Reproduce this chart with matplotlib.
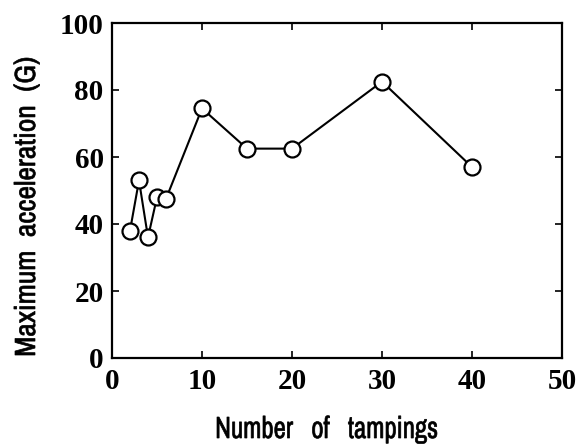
import matplotlib.pyplot as plt
from matplotlib import font_manager
from matplotlib.font_manager import FontProperties
from matplotlib.textpath import TextPath
from matplotlib.patches import PathPatch
from matplotlib.transforms import Affine2D
from matplotlib.ticker import MultipleLocator

# number of tampings vs. peak acceleration
tampings = [2, 3, 4, 5, 6, 10, 15, 20, 30, 40]
max_accel = [38, 53, 36, 48, 47.5, 74.5, 62.5, 62.5, 82.5, 57]

x_title = 'Number   of   tampings'
y_title = 'Maximum  acceleration  (G)'

# narrow face for the axis titles, if one is installed
narrow = [f.name for f in font_manager.fontManager.ttflist
          if f.stretch in ('condensed', 'semi-condensed', 'extra-condensed')
          or 'Narrow' in f.name or 'Condensed' in f.name]
lab_prop = FontProperties(family=sorted(set(narrow)) + ['DejaVu Sans'],
                          stretch='condensed')
num_font = ['Liberation Serif', 'DejaVu Serif']


def squeezed_title(fig, s, start, end, base, cap, vertical=False):
    # text outline stretched to a given length and cap height (pixels)
    tp = TextPath((0, 0), s, size=1, prop=lab_prop)
    ext = tp.get_extents()
    cap1 = TextPath((0, 0), 'N', size=1, prop=lab_prop).get_extents().y1
    tr = Affine2D().translate(-ext.x0, 0).scale((end - start) / ext.width,
                                                cap / cap1)
    if vertical:
        tr = tr.rotate_deg(90).translate(base, start)
    else:
        tr = tr.translate(start, base)
    fig.add_artist(PathPatch(tp, transform=tr, fc='black', ec='black', lw=0.5))


W, H = 586, 445
fig = plt.figure(figsize=(W / 100, H / 100), dpi=100)
ax = fig.add_axes([112 / W, 87 / H, 450 / W, 335 / H])

ax.plot(tampings, max_accel, color='black', lw=1.5, marker='o', ms=11.5,
        mfc='white', mec='black', mew=1.6, clip_on=False, zorder=3)

ax.set_xlim(0, 50)
ax.set_ylim(0, 100)
ax.xaxis.set_major_locator(MultipleLocator(10))
ax.yaxis.set_major_locator(MultipleLocator(20))
ax.tick_params(direction='in', top=True, right=True, length=5, width=1.2,
               labelsize=21)
ax.tick_params(axis='x', pad=7)
ax.tick_params(axis='y', pad=6)
for lab in ax.get_xticklabels() + ax.get_yticklabels():
    lab.set_family(num_font)
    lab.set_weight('bold')
for sp in ax.spines.values():
    sp.set_linewidth(1.6)

squeezed_title(fig, x_title, 217, 437, 7, 21)
squeezed_title(fig, y_title, 90, 387, 35, 20, vertical=True)

fig.savefig('out.png', dpi=100)
